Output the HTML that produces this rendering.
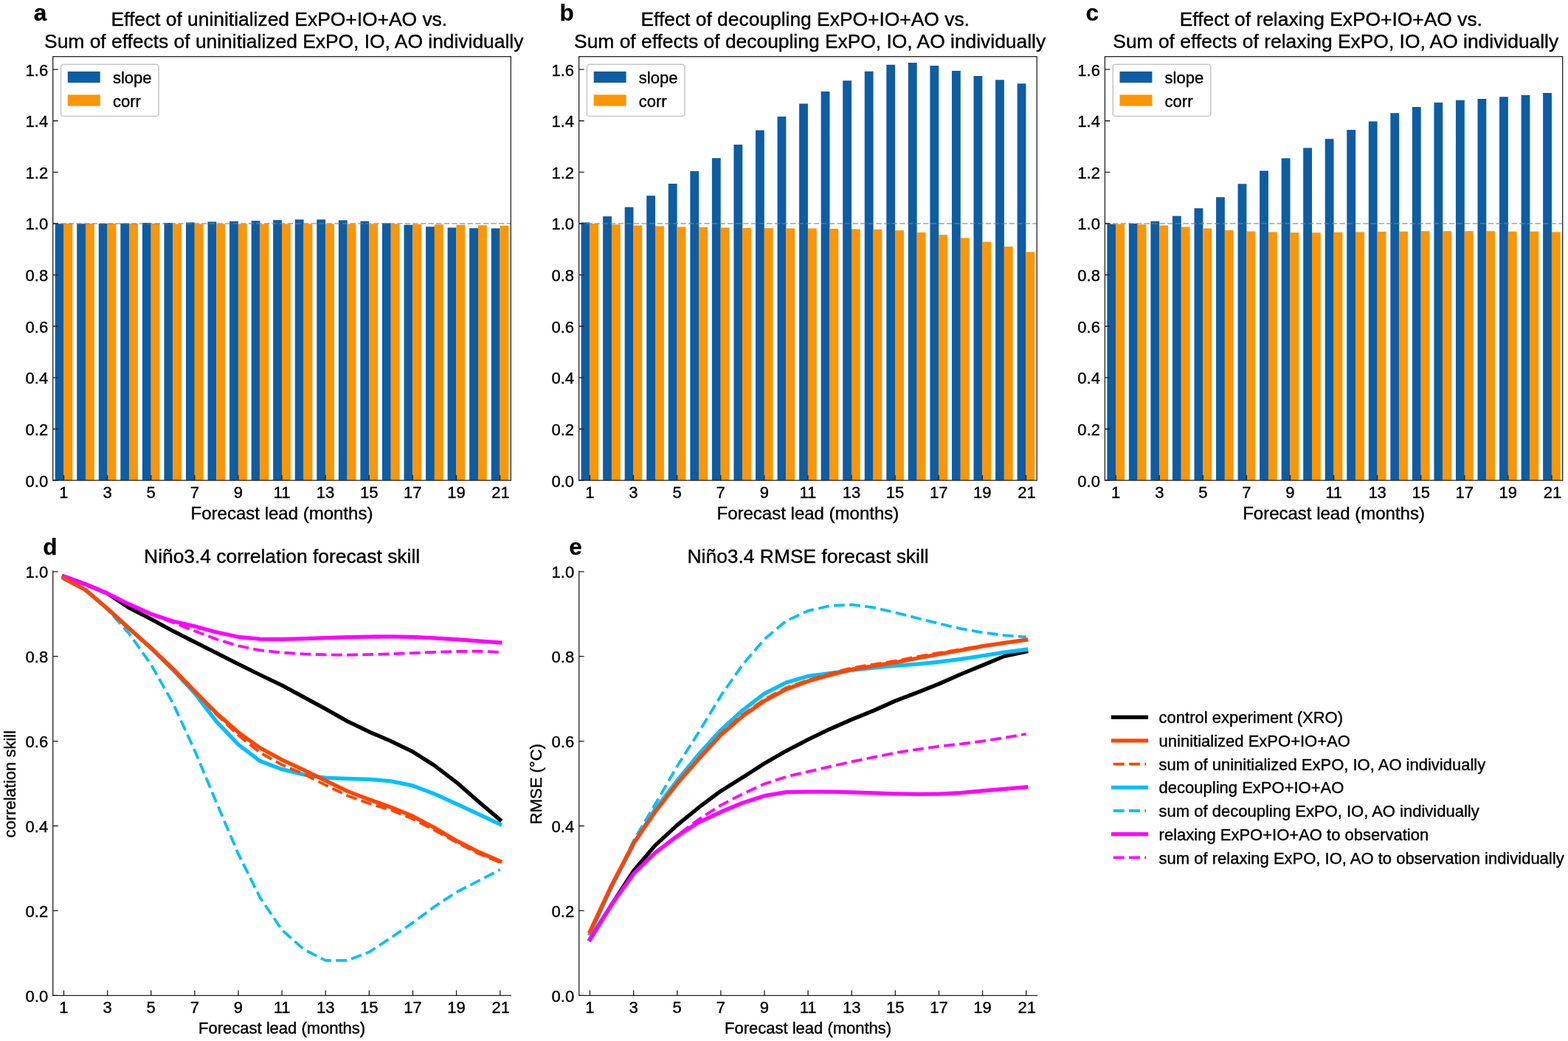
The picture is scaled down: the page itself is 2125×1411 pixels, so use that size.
<!DOCTYPE html>
<html lang="en"><head><meta charset="utf-8"><title>Figure: effects of uninitialized, decoupling and relaxing ExPO+IO+AO</title>
<style>html,body{margin:0;padding:0;background:#fff;}body{width:2125px;height:1411px;overflow:hidden;}svg{display:block;}text{font-family:'Liberation Sans', Arial, Helvetica, sans-serif;fill:#000;stroke:#000;stroke-width:0.4px;stroke-linejoin:round;}text[font-weight=bold]{stroke-width:0.25px;}</style></head><body>
<svg xmlns="http://www.w3.org/2000/svg" width="2125" height="1411" viewBox="0 0 2125 1411">
<rect width="2125" height="1411" fill="#ffffff"/>
<g id="panel-a">
<path d="M74.66 651.1V303.33H86.48V651.1ZM104.21 651.1V303.33H116.03V651.1ZM133.76 651.1V303.12H145.58V651.1ZM163.31 651.1V302.84H175.13V651.1ZM192.86 651.1V301.93H204.69V651.1ZM222.42 651.1V301.93H234.24V651.1ZM251.97 651.1V301.48H263.79V651.1ZM281.52 651.1V300.54H293.34V651.1ZM311.07 651.1V299.98H322.9V651.1ZM340.63 651.1V299.15H352.45V651.1ZM370.18 651.1V298.17H382V651.1ZM399.73 651.1V297.41H411.55V651.1ZM429.28 651.1V297.41H441.1V651.1ZM458.84 651.1V298.45H470.66V651.1ZM488.39 651.1V299.85H500.21V651.1ZM517.94 651.1V302.39H529.76V651.1ZM547.49 651.1V304.65H559.31V651.1ZM577.05 651.1V307.16H588.87V651.1ZM606.6 651.1V308.55H618.42V651.1ZM636.15 651.1V309.14H647.97V651.1ZM665.7 651.1V309.59H677.52V651.1Z" fill="#0C5DA5"/>
<path d="M86.48 651.1V302.98H98.3V651.1ZM116.03 651.1V302.98H127.85V651.1ZM145.58 651.1V302.98H157.4V651.1ZM175.13 651.1V302.98H186.95V651.1ZM204.69 651.1V303.12H216.51V651.1ZM234.24 651.1V303.43H246.06V651.1ZM263.79 651.1V303.43H275.61V651.1ZM293.34 651.1V303.43H305.16V651.1ZM322.9 651.1V303.43H334.72V651.1ZM352.45 651.1V303.43H364.27V651.1ZM382 651.1V303.43H393.82V651.1ZM411.55 651.1V303.43H423.37V651.1ZM441.1 651.1V303.43H452.93V651.1ZM470.66 651.1V303.43H482.48V651.1ZM500.21 651.1V303.43H512.03V651.1ZM529.76 651.1V303.43H541.58V651.1ZM559.31 651.1V303.88H571.14V651.1ZM588.87 651.1V304.2H600.69V651.1ZM618.42 651.1V304.79H630.24V651.1ZM647.97 651.1V305.24H659.79V651.1ZM677.52 651.1V305.69H689.34V651.1Z" fill="#FF9500"/>
<line x1="71.7" x2="692.3" y1="302.98" y2="302.98" stroke="#808080" stroke-opacity="0.55" stroke-width="1.8" stroke-dasharray="7.4 3.2"/>
<path d="M86.48 651.1v-7.0M145.58 651.1v-7.0M204.69 651.1v-7.0M263.79 651.1v-7.0M322.9 651.1v-7.0M382 651.1v-7.0M441.1 651.1v-7.0M500.21 651.1v-7.0M559.31 651.1v-7.0M618.42 651.1v-7.0M677.52 651.1v-7.0M71.7 651.1h7.0M71.7 581.48h7.0M71.7 511.85h7.0M71.7 442.23h7.0M71.7 372.6h7.0M71.7 302.98h7.0M71.7 233.35h7.0M71.7 163.73h7.0M71.7 94.11h7.0" stroke="#222222" stroke-width="1.3" fill="none"/>
<rect x="71.7" y="76.7" width="620.6" height="574.4" fill="none" stroke="#222222" stroke-width="1.3"/>
<g font-size="22" text-anchor="middle">
<text x="86.48" y="674.5">1</text>
<text x="145.58" y="674.5">3</text>
<text x="204.69" y="674.5">5</text>
<text x="263.79" y="674.5">7</text>
<text x="322.9" y="674.5">9</text>
<text x="382" y="674.5">11</text>
<text x="441.1" y="674.5">13</text>
<text x="500.21" y="674.5">15</text>
<text x="559.31" y="674.5">17</text>
<text x="618.42" y="674.5">19</text>
<text x="678.52" y="674.5">21</text>
</g>
<g font-size="22" text-anchor="end">
<text x="65.2" y="659.5">0.0</text>
<text x="65.2" y="589.88">0.2</text>
<text x="65.2" y="520.25">0.4</text>
<text x="65.2" y="450.63">0.6</text>
<text x="65.2" y="381">0.8</text>
<text x="65.2" y="311.38">1.0</text>
<text x="65.2" y="241.75">1.2</text>
<text x="65.2" y="172.13">1.4</text>
<text x="65.2" y="102.51">1.6</text>
</g>
<text x="382" y="704.2" font-size="24" text-anchor="middle">Forecast lead (months)</text>
<text x="378.3" y="35.2" font-size="26.4" text-anchor="middle">Effect of uninitialized ExPO+IO+AO vs.</text>
<text x="384.7" y="64.7" font-size="26.4" text-anchor="middle">Sum of effects of uninitialized ExPO, IO, AO individually</text>
<text x="45.7" y="28.4" font-size="31.5" text-anchor="start" font-weight="bold">a</text>
<rect x="82.5" y="87.3" width="132.6" height="70.3" rx="3.6" ry="3.6" fill="#fff" fill-opacity="0.8" stroke="#c6c6c6" stroke-width="1.5"/>
<rect x="91.8" y="96.9" width="43.9" height="15.2" fill="#0C5DA5"/>
<rect x="91.8" y="128.4" width="43.9" height="15.2" fill="#FF9500"/>
<text x="152.9" y="113.1" font-size="22" text-anchor="start">slope</text>
<text x="152.9" y="144.6" font-size="22" text-anchor="start">corr</text>
</g>
<g id="panel-b">
<path d="M787.56 651.1V301.48H799.38V651.1ZM817.11 651.1V293.2H828.93V651.1ZM846.66 651.1V280.63H858.48V651.1ZM876.21 651.1V265.24H888.03V651.1ZM905.76 651.1V248.88H917.59V651.1ZM935.32 651.1V232.1H947.14V651.1ZM964.87 651.1V214.14H976.69V651.1ZM994.42 651.1V196.04H1006.24V651.1ZM1023.97 651.1V176.51H1035.8V651.1ZM1053.53 651.1V157.95H1065.35V651.1ZM1083.08 651.1V140.55H1094.9V651.1ZM1112.63 651.1V124.04H1124.45V651.1ZM1142.18 651.1V109.21H1154V651.1ZM1171.74 651.1V96.79H1183.56V651.1ZM1201.29 651.1V87.7H1213.11V651.1ZM1230.84 651.1V85.02H1242.66V651.1ZM1260.39 651.1V88.99H1272.21V651.1ZM1289.95 651.1V96.09H1301.77V651.1ZM1319.5 651.1V102.88H1331.32V651.1ZM1349.05 651.1V108.34H1360.87V651.1ZM1378.6 651.1V113.15H1390.42V651.1Z" fill="#0C5DA5"/>
<path d="M799.38 651.1V303.33H811.2V651.1ZM828.93 651.1V304.2H840.75V651.1ZM858.48 651.1V305.42H870.3V651.1ZM888.03 651.1V306.6H899.85V651.1ZM917.59 651.1V307.5H929.41V651.1ZM947.14 651.1V308.1H958.96V651.1ZM976.69 651.1V308.55H988.51V651.1ZM1006.24 651.1V309H1018.06V651.1ZM1035.8 651.1V309.14H1047.62V651.1ZM1065.35 651.1V309.45H1077.17V651.1ZM1094.9 651.1V309.45H1106.72V651.1ZM1124.45 651.1V310.05H1136.27V651.1ZM1154 651.1V310.5H1165.83V651.1ZM1183.56 651.1V311.09H1195.38V651.1ZM1213.11 651.1V312.31H1224.93V651.1ZM1242.66 651.1V314.88H1254.48V651.1ZM1272.21 651.1V318.19H1284.04V651.1ZM1301.77 651.1V322.54H1313.59V651.1ZM1331.32 651.1V327.8H1343.14V651.1ZM1360.87 651.1V334.14H1372.69V651.1ZM1390.42 651.1V341.38H1402.24V651.1Z" fill="#FF9500"/>
<line x1="784.6" x2="1405.2" y1="302.98" y2="302.98" stroke="#808080" stroke-opacity="0.55" stroke-width="1.8" stroke-dasharray="7.4 3.2"/>
<path d="M799.38 651.1v-7.0M858.48 651.1v-7.0M917.59 651.1v-7.0M976.69 651.1v-7.0M1035.8 651.1v-7.0M1094.9 651.1v-7.0M1154 651.1v-7.0M1213.11 651.1v-7.0M1272.21 651.1v-7.0M1331.32 651.1v-7.0M1390.42 651.1v-7.0M784.6 651.1h7.0M784.6 581.48h7.0M784.6 511.85h7.0M784.6 442.23h7.0M784.6 372.6h7.0M784.6 302.98h7.0M784.6 233.35h7.0M784.6 163.73h7.0M784.6 94.11h7.0" stroke="#222222" stroke-width="1.3" fill="none"/>
<rect x="784.6" y="76.7" width="620.6" height="574.4" fill="none" stroke="#222222" stroke-width="1.3"/>
<g font-size="22" text-anchor="middle">
<text x="799.38" y="674.5">1</text>
<text x="858.48" y="674.5">3</text>
<text x="917.59" y="674.5">5</text>
<text x="976.69" y="674.5">7</text>
<text x="1035.8" y="674.5">9</text>
<text x="1094.9" y="674.5">11</text>
<text x="1154" y="674.5">13</text>
<text x="1213.11" y="674.5">15</text>
<text x="1272.21" y="674.5">17</text>
<text x="1331.32" y="674.5">19</text>
<text x="1391.42" y="674.5">21</text>
</g>
<g font-size="22" text-anchor="end">
<text x="778.1" y="659.5">0.0</text>
<text x="778.1" y="589.88">0.2</text>
<text x="778.1" y="520.25">0.4</text>
<text x="778.1" y="450.63">0.6</text>
<text x="778.1" y="381">0.8</text>
<text x="778.1" y="311.38">1.0</text>
<text x="778.1" y="241.75">1.2</text>
<text x="778.1" y="172.13">1.4</text>
<text x="778.1" y="102.51">1.6</text>
</g>
<text x="1094.9" y="704.2" font-size="24" text-anchor="middle">Forecast lead (months)</text>
<text x="1091.2" y="35.2" font-size="26.4" text-anchor="middle">Effect of decoupling ExPO+IO+AO vs.</text>
<text x="1097.6" y="64.7" font-size="26.4" text-anchor="middle">Sum of effects of decoupling ExPO, IO, AO individually</text>
<text x="758.6" y="28.4" font-size="31.5" text-anchor="start" font-weight="bold">b</text>
<rect x="795.4" y="87.3" width="132.6" height="70.3" rx="3.6" ry="3.6" fill="#fff" fill-opacity="0.8" stroke="#c6c6c6" stroke-width="1.5"/>
<rect x="804.7" y="96.9" width="43.9" height="15.2" fill="#0C5DA5"/>
<rect x="804.7" y="128.4" width="43.9" height="15.2" fill="#FF9500"/>
<text x="865.8" y="113.1" font-size="22" text-anchor="start">slope</text>
<text x="865.8" y="144.6" font-size="22" text-anchor="start">corr</text>
</g>
<g id="panel-c">
<path d="M1500.35 651.1V303.68H1512.17V651.1ZM1529.89 651.1V302.98H1541.71V651.1ZM1559.43 651.1V299.98H1571.25V651.1ZM1588.97 651.1V292.71H1600.78V651.1ZM1618.51 651.1V282.13H1630.32V651.1ZM1648.04 651.1V267.16H1659.86V651.1ZM1677.58 651.1V249.33H1689.4V651.1ZM1707.12 651.1V231.51H1718.94V651.1ZM1736.66 651.1V214.56H1748.47V651.1ZM1766.2 651.1V200.6H1778.01V651.1ZM1795.73 651.1V188.13H1807.55V651.1ZM1825.27 651.1V176.12H1837.09V651.1ZM1854.81 651.1V164.53H1866.63V651.1ZM1884.35 651.1V153.36H1896.16V651.1ZM1913.89 651.1V144.9H1925.7V651.1ZM1943.43 651.1V139.12H1955.24V651.1ZM1972.96 651.1V135.81H1984.78V651.1ZM2002.5 651.1V133.97H2014.32V651.1ZM2032.04 651.1V131.25H2043.85V651.1ZM2061.58 651.1V129.02H2073.39V651.1ZM2091.12 651.1V125.99H2102.93V651.1Z" fill="#0C5DA5"/>
<path d="M1512.17 651.1V303.68H1523.98V651.1ZM1541.71 651.1V304.2H1553.52V651.1ZM1571.25 651.1V305.55H1583.06V651.1ZM1600.78 651.1V307.5H1612.6V651.1ZM1630.32 651.1V309.45H1642.14V651.1ZM1659.86 651.1V312.03H1671.67V651.1ZM1689.4 651.1V313.53H1701.21V651.1ZM1718.94 651.1V314.57H1730.75V651.1ZM1748.47 651.1V315.34H1760.29V651.1ZM1778.01 651.1V315.34H1789.83V651.1ZM1807.55 651.1V314.71H1819.37V651.1ZM1837.09 651.1V314.43H1848.9V651.1ZM1866.63 651.1V313.98H1878.44V651.1ZM1896.16 651.1V313.77H1907.98V651.1ZM1925.7 651.1V313.35H1937.52V651.1ZM1955.24 651.1V313.35H1967.06V651.1ZM1984.78 651.1V313.35H1996.59V651.1ZM2014.32 651.1V313.35H2026.13V651.1ZM2043.85 651.1V313.67H2055.67V651.1ZM2073.39 651.1V313.77H2085.21V651.1ZM2102.93 651.1V314.43H2114.75V651.1Z" fill="#FF9500"/>
<line x1="1497.4" x2="2117.7" y1="302.98" y2="302.98" stroke="#808080" stroke-opacity="0.55" stroke-width="1.8" stroke-dasharray="7.4 3.2"/>
<path d="M1512.17 651.1v-7.0M1571.25 651.1v-7.0M1630.32 651.1v-7.0M1689.4 651.1v-7.0M1748.47 651.1v-7.0M1807.55 651.1v-7.0M1866.63 651.1v-7.0M1925.7 651.1v-7.0M1984.78 651.1v-7.0M2043.85 651.1v-7.0M2102.93 651.1v-7.0M1497.4 651.1h7.0M1497.4 581.48h7.0M1497.4 511.85h7.0M1497.4 442.23h7.0M1497.4 372.6h7.0M1497.4 302.98h7.0M1497.4 233.35h7.0M1497.4 163.73h7.0M1497.4 94.11h7.0" stroke="#222222" stroke-width="1.3" fill="none"/>
<rect x="1497.4" y="76.7" width="620.3" height="574.4" fill="none" stroke="#222222" stroke-width="1.3"/>
<g font-size="22" text-anchor="middle">
<text x="1512.17" y="674.5">1</text>
<text x="1571.25" y="674.5">3</text>
<text x="1630.32" y="674.5">5</text>
<text x="1689.4" y="674.5">7</text>
<text x="1748.47" y="674.5">9</text>
<text x="1807.55" y="674.5">11</text>
<text x="1866.63" y="674.5">13</text>
<text x="1925.7" y="674.5">15</text>
<text x="1984.78" y="674.5">17</text>
<text x="2043.85" y="674.5">19</text>
<text x="2103.93" y="674.5">21</text>
</g>
<g font-size="22" text-anchor="end">
<text x="1490.9" y="659.5">0.0</text>
<text x="1490.9" y="589.88">0.2</text>
<text x="1490.9" y="520.25">0.4</text>
<text x="1490.9" y="450.63">0.6</text>
<text x="1490.9" y="381">0.8</text>
<text x="1490.9" y="311.38">1.0</text>
<text x="1490.9" y="241.75">1.2</text>
<text x="1490.9" y="172.13">1.4</text>
<text x="1490.9" y="102.51">1.6</text>
</g>
<text x="1807.55" y="704.2" font-size="24" text-anchor="middle">Forecast lead (months)</text>
<text x="1803.85" y="35.2" font-size="26.4" text-anchor="middle">Effect of relaxing ExPO+IO+AO vs.</text>
<text x="1810.25" y="64.7" font-size="26.4" text-anchor="middle">Sum of effects of relaxing ExPO, IO, AO individually</text>
<text x="1471.4" y="28.4" font-size="31.5" text-anchor="start" font-weight="bold">c</text>
<rect x="1508.2" y="87.3" width="132.6" height="70.3" rx="3.6" ry="3.6" fill="#fff" fill-opacity="0.8" stroke="#c6c6c6" stroke-width="1.5"/>
<rect x="1517.5" y="96.9" width="43.9" height="15.2" fill="#0C5DA5"/>
<rect x="1517.5" y="128.4" width="43.9" height="15.2" fill="#FF9500"/>
<text x="1578.6" y="113.1" font-size="22" text-anchor="start">slope</text>
<text x="1578.6" y="144.6" font-size="22" text-anchor="start">corr</text>
</g>
<g id="panel-d">
<polyline points="86.48,783.99 116.04,799.73 145.6,825.01 175.17,852.07 204.73,878.5 234.29,907.8 263.85,939.68 293.41,978.17 322.98,1009.2 352.54,1031.6 382.1,1042.69 411.66,1049.81 441.22,1054.29 470.79,1055.39 500.35,1056.3 529.91,1058.83 559.47,1064.92 589.03,1076.13 618.6,1089.63 648.16,1103.41 677.72,1117.2" fill="none" stroke="#00BFFF" stroke-width="5.3" stroke-linecap="square" stroke-linejoin="round"/>
<polyline points="86.48,783.99 116.04,799.73 145.6,825.93 175.17,858.96 204.73,900.73 234.29,952.89 263.85,1017.24 293.41,1087.9 322.98,1157.42 352.54,1216.76 382.1,1260.42 411.66,1286.79 441.22,1301.85 470.79,1301.85 500.35,1290.53 529.91,1271 559.47,1250.66 589.03,1228.77 618.6,1209.24 648.16,1194.18 677.72,1178.67" fill="none" stroke="#00BFFF" stroke-width="3.8" stroke-dasharray="14.8 6.4" stroke-linejoin="round"/>
<polyline points="86.48,781.35 116.04,792.03 145.6,804.39 175.17,823.98 204.73,839.14 234.29,855.23 263.85,870.17 293.41,885.1 322.98,900.04 352.54,914.75 382.1,928.88 411.66,944.85 441.22,960.94 470.79,977.6 500.35,991.96 529.91,1004.6 559.47,1018.96 589.03,1037.75 618.6,1060.33 648.16,1086.18 677.72,1111.17" fill="none" stroke="#000000" stroke-width="5.3" stroke-linecap="square" stroke-linejoin="round"/>
<polyline points="86.48,781.35 116.04,792.03 145.6,804.39 175.17,819.04 204.73,832.25 234.29,842.02 263.85,848.91 293.41,856.95 322.98,863.27 352.54,866.15 382.1,866.38 411.66,865.63 441.22,864.59 470.79,863.68 500.35,863.04 529.91,862.93 559.47,863.39 589.03,864.88 618.6,866.72 648.16,868.79 677.72,870.91" fill="none" stroke="#FF00FF" stroke-width="5.3" stroke-linecap="square" stroke-linejoin="round"/>
<polyline points="86.48,781.35 116.04,792.03 145.6,804.39 175.17,819.04 204.73,832.82 234.29,843.74 263.85,855.23 293.41,866.38 322.98,875.34 352.54,881.43 382.1,884.53 411.66,886.43 441.22,887.46 470.79,887.75 500.35,887.17 529.91,886.25 559.47,885.22 589.03,883.95 618.6,882.98 648.16,882.63 677.72,883.95" fill="none" stroke="#FF00FF" stroke-width="3.8" stroke-dasharray="14.8 6.4" stroke-linejoin="round"/>
<polyline points="86.48,783.99 116.04,799.73 145.6,825.01 175.17,852.07 204.73,878.21 234.29,906.36 263.85,936.81 293.41,966.68 322.98,992.54 352.54,1013.79 382.1,1029.88 411.66,1043.67 441.22,1058.03 470.79,1072.39 500.35,1083.65 529.91,1094.22 559.47,1106.29 589.03,1122.09 618.6,1139.44 648.16,1154.54 677.72,1167.3" fill="none" stroke="#FF4500" stroke-width="5.3" stroke-linecap="square" stroke-linejoin="round"/>
<polyline points="86.48,783.99 116.04,799.73 145.6,825.01 175.17,852.07 204.73,878.21 234.29,906.36 263.85,937.38 293.41,968.41 322.98,996.56 352.54,1020.11 382.1,1036.77 411.66,1049.01 441.22,1064.12 470.79,1078.42 500.35,1089.05 529.91,1098.01 559.47,1110.02 589.03,1125.24 618.6,1141.68 648.16,1156.84 677.72,1168.91" fill="none" stroke="#FF4500" stroke-width="3.8" stroke-dasharray="14.8 6.4" stroke-linejoin="round"/>
<path d="M86.48 1349.3v-7.0M145.6 1349.3v-7.0M204.73 1349.3v-7.0M263.85 1349.3v-7.0M322.98 1349.3v-7.0M382.1 1349.3v-7.0M441.22 1349.3v-7.0M500.35 1349.3v-7.0M559.47 1349.3v-7.0M618.6 1349.3v-7.0M677.72 1349.3v-7.0M71.7 1349.3h7.0M71.7 1234.4h7.0M71.7 1119.5h7.0M71.7 1004.6h7.0M71.7 889.7h7.0M71.7 774.8h7.0" stroke="#222222" stroke-width="1.3" fill="none"/>
<path d="M71.7 774.15V1349.3H692.5" stroke="#222222" stroke-width="1.3" fill="none" stroke-linecap="square"/>
<g font-size="22" text-anchor="middle">
<text x="86.48" y="1372.7">1</text>
<text x="145.6" y="1372.7">3</text>
<text x="204.73" y="1372.7">5</text>
<text x="263.85" y="1372.7">7</text>
<text x="322.98" y="1372.7">9</text>
<text x="382.1" y="1372.7">11</text>
<text x="441.22" y="1372.7">13</text>
<text x="500.35" y="1372.7">15</text>
<text x="559.47" y="1372.7">17</text>
<text x="618.6" y="1372.7">19</text>
<text x="678.72" y="1372.7">21</text>
</g>
<g font-size="22" text-anchor="end">
<text x="65.2" y="1357.7">0.0</text>
<text x="65.2" y="1242.8">0.2</text>
<text x="65.2" y="1127.9">0.4</text>
<text x="65.2" y="1013">0.6</text>
<text x="65.2" y="898.1">0.8</text>
<text x="65.2" y="783.2">1.0</text>
</g>
<text x="382.1" y="1401" font-size="22" text-anchor="middle">Forecast lead (months)</text>
<text x="382.1" y="762.5" font-size="26.4" text-anchor="middle">Niño3.4 correlation forecast skill</text>
<text x="21.5" y="1062.65" font-size="22" text-anchor="middle" transform="rotate(-90 21.5 1062.65)">correlation skill</text>
<text x="58.2" y="752.3" font-size="31.5" text-anchor="start" font-weight="bold">d</text>
</g>
<g id="panel-e">
<polyline points="799.48,1273.24 829.04,1225.78 858.6,1180.4 888.17,1145.58 917.73,1118.35 947.29,1094.22 976.85,1072.22 1006.41,1053.78 1035.98,1034.76 1065.54,1017.81 1095.1,1002.3 1124.66,988.23 1154.22,975.3 1183.79,963.24 1213.35,950.02 1242.91,938.7 1272.47,927.04 1302.03,913.83 1331.6,901.76 1361.16,889.41 1390.72,883.15" fill="none" stroke="#000000" stroke-width="5.3" stroke-linecap="square" stroke-linejoin="round"/>
<polyline points="799.48,1265.71 829.04,1201.65 858.6,1144.2 888.17,1096.52 917.73,1058.03 947.29,1021.84 976.85,989.66 1006.41,962.78 1035.98,940.2 1065.54,925.15 1095.1,916.47 1124.66,912.68 1154.22,908.49 1183.79,905.04 1213.35,902.45 1242.91,900.21 1272.47,897.17 1302.03,893.43 1331.6,888.84 1361.16,884.13 1390.72,880.34" fill="none" stroke="#00BFFF" stroke-width="5.3" stroke-linecap="square" stroke-linejoin="round"/>
<polyline points="799.48,1265.71 829.04,1201.08 858.6,1139.61 888.17,1089.63 917.73,1038.5 947.29,991.96 976.85,943.19 1006.41,901.02 1035.98,866.38 1065.54,841.56 1095.1,827.94 1124.66,821.22 1154.22,819.67 1183.79,823.46 1213.35,830.24 1242.91,837.77 1272.47,845.29 1302.03,852.07 1331.6,857.36 1361.16,861.09 1390.72,863.39" fill="none" stroke="#00BFFF" stroke-width="3.8" stroke-dasharray="14.8 6.4" stroke-linejoin="round"/>
<polyline points="799.48,1262.67 829.04,1199.41 858.6,1143.05 888.17,1099.97 917.73,1062.05 947.29,1028.15 976.85,996.27 1006.41,970.7 1035.98,950.02 1065.54,934.22 1095.1,923.25 1124.66,914.98 1154.22,907.45 1183.79,902.57 1213.35,897.86 1242.91,892.23 1272.47,886.66 1302.03,881.37 1331.6,875.8 1361.16,871.32 1390.72,867.24" fill="none" stroke="#FF4500" stroke-width="5.3" stroke-linecap="square" stroke-linejoin="round"/>
<polyline points="799.48,1262.67 829.04,1199.41 858.6,1143.05 888.17,1099.97 917.73,1062.05 947.29,1027.58 976.85,994.55 1006.41,968.69 1035.98,948.01 1065.54,932.21 1095.1,921.81 1124.66,912.97 1154.22,905.44 1183.79,900.56 1213.35,895.85 1242.91,890.22 1272.47,884.93 1302.03,880.22 1331.6,875.22 1361.16,871.03 1390.72,867.24" fill="none" stroke="#FF4500" stroke-width="3.8" stroke-dasharray="14.8 6.4" stroke-linejoin="round"/>
<polyline points="799.48,1273.24 829.04,1225.78 858.6,1184.42 888.17,1155.69 917.73,1133.29 947.29,1114.33 976.85,1100.54 1006.41,1088.25 1035.98,1078.71 1065.54,1073.71 1095.1,1073.14 1124.66,1073.14 1154.22,1073.88 1183.79,1074.92 1213.35,1075.84 1242.91,1076.41 1272.47,1076.13 1302.03,1074.69 1331.6,1071.93 1361.16,1069.35 1390.72,1066.82" fill="none" stroke="#FF00FF" stroke-width="5.3" stroke-linecap="square" stroke-linejoin="round"/>
<polyline points="799.48,1273.24 829.04,1225.78 858.6,1184.42 888.17,1155.12 917.73,1132.14 947.29,1110.31 976.85,1091.35 1006.41,1076.13 1035.98,1062.51 1065.54,1052.74 1095.1,1045.96 1124.66,1039.18 1154.22,1032.46 1183.79,1026.37 1213.35,1020.4 1242.91,1015.8 1272.47,1011.49 1302.03,1008.39 1331.6,1004.6 1361.16,1000 1390.72,994.83" fill="none" stroke="#FF00FF" stroke-width="3.8" stroke-dasharray="14.8 6.4" stroke-linejoin="round"/>
<path d="M799.48 1349.3v-7.0M858.6 1349.3v-7.0M917.73 1349.3v-7.0M976.85 1349.3v-7.0M1035.98 1349.3v-7.0M1095.1 1349.3v-7.0M1154.22 1349.3v-7.0M1213.35 1349.3v-7.0M1272.47 1349.3v-7.0M1331.6 1349.3v-7.0M1390.72 1349.3v-7.0M784.7 1349.3h7.0M784.7 1234.4h7.0M784.7 1119.5h7.0M784.7 1004.6h7.0M784.7 889.7h7.0M784.7 774.8h7.0" stroke="#222222" stroke-width="1.3" fill="none"/>
<path d="M784.7 774.15V1349.3H1405.5" stroke="#222222" stroke-width="1.3" fill="none" stroke-linecap="square"/>
<g font-size="22" text-anchor="middle">
<text x="799.48" y="1372.7">1</text>
<text x="858.6" y="1372.7">3</text>
<text x="917.73" y="1372.7">5</text>
<text x="976.85" y="1372.7">7</text>
<text x="1035.98" y="1372.7">9</text>
<text x="1095.1" y="1372.7">11</text>
<text x="1154.22" y="1372.7">13</text>
<text x="1213.35" y="1372.7">15</text>
<text x="1272.47" y="1372.7">17</text>
<text x="1331.6" y="1372.7">19</text>
<text x="1391.72" y="1372.7">21</text>
</g>
<g font-size="22" text-anchor="end">
<text x="778.2" y="1357.7">0.0</text>
<text x="778.2" y="1242.8">0.2</text>
<text x="778.2" y="1127.9">0.4</text>
<text x="778.2" y="1013">0.6</text>
<text x="778.2" y="898.1">0.8</text>
<text x="778.2" y="783.2">1.0</text>
</g>
<text x="1095.1" y="1401" font-size="22" text-anchor="middle">Forecast lead (months)</text>
<text x="1095.1" y="762.5" font-size="26.4" text-anchor="middle">Niño3.4 RMSE forecast skill</text>
<text x="734.5" y="1062.65" font-size="22" text-anchor="middle" transform="rotate(-90 734.5 1062.65)">RMSE (°C)</text>
<text x="771.2" y="752.3" font-size="31.5" text-anchor="start" font-weight="bold">e</text>
</g>
<g id="legend">
<line x1="1508.6" x2="1553.4" y1="972.2" y2="972.2" stroke="#000000" stroke-width="5.3" stroke-linecap="square"/>
<text x="1570.6" y="980.3" font-size="22" text-anchor="start">control experiment (XRO)</text>
<line x1="1508.6" x2="1553.4" y1="1003.9" y2="1003.9" stroke="#FF4500" stroke-width="5.3" stroke-linecap="square"/>
<text x="1570.6" y="1012" font-size="22" text-anchor="start">uninitialized ExPO+IO+AO</text>
<line x1="1508.9" x2="1553.1" y1="1035.6" y2="1035.6" stroke="#FF4500" stroke-width="3.8" stroke-dasharray="14.8 6.4"/>
<text x="1570.6" y="1043.7" font-size="22" text-anchor="start">sum of uninitialized ExPO, IO, AO individually</text>
<line x1="1508.6" x2="1553.4" y1="1067.3" y2="1067.3" stroke="#00BFFF" stroke-width="5.3" stroke-linecap="square"/>
<text x="1570.6" y="1075.4" font-size="22" text-anchor="start">decoupling ExPO+IO+AO</text>
<line x1="1508.9" x2="1553.1" y1="1099" y2="1099" stroke="#00BFFF" stroke-width="3.8" stroke-dasharray="14.8 6.4"/>
<text x="1570.6" y="1107.1" font-size="22" text-anchor="start">sum of decoupling ExPO, IO, AO individually</text>
<line x1="1508.6" x2="1553.4" y1="1130.7" y2="1130.7" stroke="#FF00FF" stroke-width="5.3" stroke-linecap="square"/>
<text x="1570.6" y="1138.8" font-size="22" text-anchor="start">relaxing ExPO+IO+AO to observation</text>
<line x1="1508.9" x2="1553.1" y1="1162.4" y2="1162.4" stroke="#FF00FF" stroke-width="3.8" stroke-dasharray="14.8 6.4"/>
<text x="1570.6" y="1170.5" font-size="22" text-anchor="start">sum of relaxing ExPO, IO, AO to observation individually</text>
</g>
</svg></body></html>
